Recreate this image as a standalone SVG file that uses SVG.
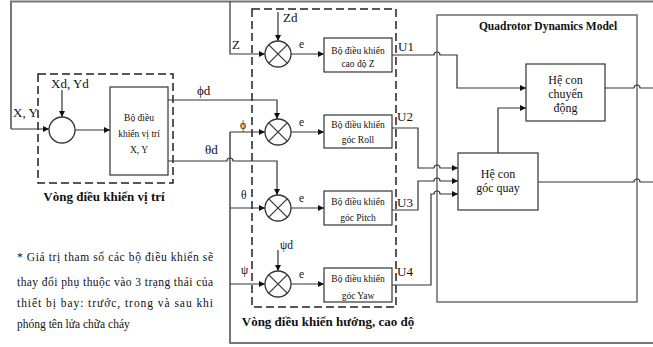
<svg xmlns="http://www.w3.org/2000/svg" width="653" height="347" viewBox="0 0 653 347" font-family="'Liberation Serif', 'Times New Roman', serif">
<style>
text{font-family:"Liberation Serif","DejaVu Serif","Times New Roman",serif;fill:#111}
.ln{fill:none;stroke:#333;stroke-width:1.2}
.fb{fill:none;stroke:#777;stroke-width:2}
.box{fill:#fff;stroke:#333;stroke-width:1.2}
.dash{fill:none;stroke:#222;stroke-width:1.5;stroke-dasharray:8,4}
.sum{fill:#fff;stroke:#333;stroke-width:1.3}
.s9{font-size:9.5px}
.s11{font-size:11.5px}
.s12{font-size:13px}
.s12b{font-size:12px}
.b{font-weight:bold}
</style>
<defs>
<marker id="ar" viewBox="0 0 10 10" refX="10" refY="5" markerWidth="7" markerHeight="6" markerUnits="userSpaceOnUse" orient="auto"><path d="M0,0L10,5L0,10z" fill="#111"/></marker>
</defs>

<g id="frames">
<rect x="38" y="74" width="135" height="109" class="dash"/>
<rect x="252" y="9" width="144" height="298" class="dash"/>
<rect x="437" y="15" width="200" height="287" fill="none" stroke="#555" stroke-width="1.3"/>
</g>

<g id="connectors">
<path class="fb" d="M653,1.5H11V129"/>
<path class="ln" d="M11,129H49" marker-end="url(#ar)"/>
<path class="ln" d="M230,1.5V54H265" marker-end="url(#ar)"/>
<path class="fb" d="M653,343H230V132"/>
<path class="ln" d="M230,132H265" marker-end="url(#ar)"/>
<path class="ln" d="M230,208H265" marker-end="url(#ar)"/>
<path class="ln" d="M230,284H265" marker-end="url(#ar)"/>
<path class="ln" d="M62,90V117" marker-end="url(#ar)"/>
<path class="ln" d="M75,130H110" marker-end="url(#ar)"/>
<path class="ln" d="M168,100H277V119" marker-end="url(#ar)"/>
<path class="ln" d="M168,161H227a3,3 0 0 1 6,0H277V195" marker-end="url(#ar)"/>
<path class="ln" d="M278,12V41" marker-end="url(#ar)"/>
<path class="ln" d="M278,250V271" marker-end="url(#ar)"/>
<path class="ln" d="M291,54H324" marker-end="url(#ar)"/>
<path class="ln" d="M291,132H324" marker-end="url(#ar)"/>
<path class="ln" d="M291,208H324" marker-end="url(#ar)"/>
<path class="ln" d="M291,284H324" marker-end="url(#ar)"/>
<path class="ln" d="M392,55H434a3,3 0 0 1 6,0H457V88H526" marker-end="url(#ar)"/>
<path class="ln" d="M392,128H418V168H434a3,3 0 0 1 6,0H458" marker-end="url(#ar)"/>
<path class="ln" d="M392,210H418V181H434a3,3 0 0 1 6,0H458" marker-end="url(#ar)"/>
<path class="ln" d="M392,285H431V194H434a3,3 0 0 1 6,0H458" marker-end="url(#ar)"/>
<path class="ln" d="M498,153V108H526" marker-end="url(#ar)"/>
<path class="ln" d="M605,88H634a3,3 0 0 1 6,0H653"/>
<path class="ln" d="M538,182H634a3,3 0 0 1 6,0H653"/>
</g>

<g id="sumXY"><circle cx="62" cy="130" r="13" class="sum"/></g>
<g id="ctrlXY">
<rect x="110" y="87" width="58" height="88" class="box"/>
<text class="s9" x="139" y="121" text-anchor="middle">Bộ điều</text>
<text class="s9" x="139" y="137" text-anchor="middle">khiển vị trí</text>
<text class="s9" x="139" y="153" text-anchor="middle">X, Y</text>
</g>

<g id="sumZ"><circle cx="278" cy="54" r="13" class="sum"/><path class="ln" d="M268.8,44.8L287.2,63.2M287.2,44.8L268.8,63.2"/></g>
<g id="sumRoll"><circle cx="278" cy="132" r="13" class="sum"/><path class="ln" d="M268.8,122.8L287.2,141.2M287.2,122.8L268.8,141.2"/></g>
<g id="sumPitch"><circle cx="278" cy="208" r="13" class="sum"/><path class="ln" d="M268.8,198.8L287.2,217.2M287.2,198.8L268.8,217.2"/></g>
<g id="sumYaw"><circle cx="278" cy="284" r="13" class="sum"/><path class="ln" d="M268.8,274.8L287.2,293.2M287.2,274.8L268.8,293.2"/></g>

<g id="ctrlZ"><rect x="324" y="38" width="68" height="34" class="box"/>
<text class="s9" x="358" y="54" text-anchor="middle">Bộ điều khiển</text>
<text class="s9" x="358" y="67" text-anchor="middle">cao độ Z</text></g>
<g id="ctrlRoll"><rect x="324" y="115" width="68" height="33" class="box"/>
<text class="s9" x="358" y="128" text-anchor="middle">Bộ điều khiển</text>
<text class="s9" x="358" y="143" text-anchor="middle">góc Roll</text></g>
<g id="ctrlPitch"><rect x="324" y="191" width="68" height="34" class="box"/>
<text class="s9" x="358" y="205" text-anchor="middle">Bộ điều khiển</text>
<text class="s9" x="358" y="221" text-anchor="middle">góc Pitch</text></g>
<g id="ctrlYaw"><rect x="324" y="268" width="68" height="34" class="box"/>
<text class="s9" x="358" y="282" text-anchor="middle">Bộ điều khiển</text>
<text class="s9" x="358" y="299" text-anchor="middle">góc Yaw</text></g>

<g id="motion"><rect x="526" y="64" width="79" height="57" class="box"/>
<text class="s12b" x="565.5" y="84" text-anchor="middle">Hệ con</text>
<text class="s12b" x="565.5" y="98" text-anchor="middle">chuyển</text>
<text class="s12b" x="565.5" y="112" text-anchor="middle">động</text></g>
<g id="attitude"><rect x="458" y="153" width="80" height="57" class="box"/>
<text class="s12b" x="498" y="178" text-anchor="middle">Hệ con</text>
<text class="s12b" x="498" y="192" text-anchor="middle">góc quay</text></g>

<g id="labels">
<text class="s11 b" x="548" y="30" text-anchor="middle">Quadrotor Dynamics Model</text>
<text class="s12 b" x="104" y="201" text-anchor="middle">Vòng điều khiển vị trí</text>
<text class="s12 b" x="328" y="326" text-anchor="middle">Vòng điều khiển hướng, cao độ</text>
<text class="s12" x="13" y="117">X, Y</text>
<text class="s12" x="51" y="88">Xd, Yd</text>
<text class="s12" x="232" y="49">Z</text>
<text class="s12" x="283" y="22">Zd</text>
<text class="s11" x="299" y="48">e</text>
<text class="s11" x="299" y="126">e</text>
<text class="s11" x="299" y="202">e</text>
<text class="s11" x="299" y="278">e</text>
<text class="s12" x="197" y="95">ϕd</text>
<text class="s12" x="205" y="154">θd</text>
<text class="s11" x="240" y="129">ϕ</text>
<text class="s11" x="241" y="199">θ</text>
<text class="s11" x="241" y="274">ψ</text>
<text class="s11" x="280" y="249">ψd</text>
<text class="s12" x="398" y="51">U1</text>
<text class="s12" x="397" y="121">U2</text>
<text class="s12" x="397" y="207">U3</text>
<text class="s12" x="397" y="276">U4</text>
<text class="s11" x="17" y="261" textLength="196" lengthAdjust="spacing">* Giá trị tham số các bộ điều khiển sẽ</text>
<text class="s11" x="17" y="286" textLength="196" lengthAdjust="spacing">thay đổi phụ thuộc vào 3 trạng thái của</text>
<text class="s11" x="17" y="307" textLength="196" lengthAdjust="spacing">thiết bị bay: trước, trong và sau khi</text>
<text class="s11" x="17" y="328">phóng tên lửa chữa cháy</text>
</g>
</svg>
